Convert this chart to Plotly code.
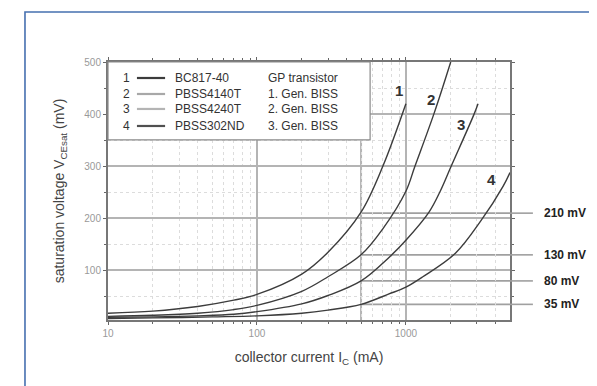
import math
import plotly.graph_objects as go

# collector current (mA) and saturation voltage (mV)
ic_1 = [10, 20, 40, 70, 100, 200, 300, 500, 700, 1000]
v_1 = [18, 22, 31, 43, 54, 93, 135, 212, 300, 420]

ic_2 = [10, 20, 40, 70, 100, 200, 300, 500, 700, 1000, 1150, 1540, 2000]
v_2 = [12, 14, 18, 25, 33, 60, 88, 130, 180, 252, 300, 400, 500]

ic_3 = [10, 20, 40, 70, 100, 200, 300, 500, 770, 1000, 1430, 1700, 2000, 2870, 3050]
v_3 = [10, 11, 13, 16, 21, 36, 52, 80, 125, 158, 212, 252, 298, 400, 420]

ic_4 = [10, 20, 50, 100, 200, 300, 500, 770, 1000, 1300, 2150, 3200, 4500, 5000]
v_4 = [8, 9, 11, 13, 18, 24, 35, 55, 68, 88, 133, 196, 262, 288]

curve_ids = ["1", "2", "3", "4"]
part_names = ["BC817-40", "PBSS4140T", "PBSS4240T", "PBSS302ND"]
part_types = ["GP transistor", "1. Gen. BISS", "2. Gen. BISS", "3. Gen. BISS"]
label_x = [900, 1470, 2330, 3760]
label_y = [446, 428, 381, 274]

ref_current = 500
ref_mv = [210, 130, 80, 35]

FONT = "Arial, Liberation Sans, sans-serif"
CURVE = "#3c3c3c"
GRID = "#b4b4b4"
MINOR = "#dcdcdc"

fig = go.Figure()
for ic, v, cid in zip([ic_1, ic_2, ic_3, ic_4], [v_1, v_2, v_3, v_4], curve_ids):
    fig.add_trace(go.Scatter(x=ic, y=v, mode="lines", line=dict(color=CURVE, width=1.4),
                             line_shape="spline", name=cid, showlegend=False))

shapes = []
# vertical marker at 500 mA
shapes.append(dict(type="line", xref="x", yref="y domain", x0=ref_current, x1=ref_current,
                   y0=0, y1=1, line=dict(color=GRID, width=2), layer="below"))
for mv in ref_mv:
    shapes.append(dict(type="line", xref="x", yref="y", x0=ref_current, x1=5000, y0=mv, y1=mv,
                       line=dict(color="#a0a0a0", width=1.6), layer="below"))
    shapes.append(dict(type="line", xref="x domain", yref="y", x0=1, x1=1.057, y0=mv, y1=mv,
                       line=dict(color="#a0a0a0", width=1.6)))

# legend box
shapes.append(dict(type="rect", xref="paper", yref="paper", x0=0, x1=0.652, y0=0.698, y1=1,
                   fillcolor="white", line=dict(color="#8a8a8a", width=1.2), layer="above"))
legend_rows = [0.938, 0.876, 0.818, 0.752]
legend_line_colors = ["#3c3c3c", "#a8a8a8", "#b4b4b4", "#505050"]
annotations = []
for row, cid, pname, ptype, lc in zip(legend_rows, curve_ids, part_names, part_types,
                                      legend_line_colors):
    shapes.append(dict(type="line", xref="paper", yref="paper", x0=0.072, x1=0.142,
                       y0=row, y1=row, line=dict(color=lc, width=2.2)))
    annotations.append(dict(xref="paper", yref="paper", x=0.047, y=row, text=cid,
                            xanchor="center", yanchor="middle", showarrow=False,
                            font=dict(size=12, color="#333", family=FONT)))
    annotations.append(dict(xref="paper", yref="paper", x=0.162, y=row, text=pname,
                            xanchor="left", yanchor="middle", showarrow=False,
                            font=dict(size=12, color="#333", family=FONT)))
    annotations.append(dict(xref="paper", yref="paper", x=0.393, y=row, text=ptype,
                            xanchor="left", yanchor="middle", showarrow=False,
                            font=dict(size=12, color="#333", family=FONT)))

# curve numbers (annotation x on a log axis is given as log10)
for cid, lx, ly in zip(curve_ids, label_x, label_y):
    annotations.append(dict(x=math.log10(lx), y=ly, xref="x", yref="y", text=f"<b>{cid}</b>",
                            xanchor="center", yanchor="middle", showarrow=False,
                            font=dict(size=15, color="#333", family=FONT)))

# reference voltage labels
for mv in ref_mv:
    annotations.append(dict(xref="x domain", yref="y", x=1.08, y=mv, text=f"<b>{mv} mV</b>",
                            xanchor="left", yanchor="middle", showarrow=False,
                            font=dict(size=12, color="#222", family=FONT)))

# outer blue frame
shapes.append(dict(type="path", xref="paper", yref="paper",
                   path="M -0.2065,-0.4 L -0.2065,1.194 L 1.3,1.194",
                   line=dict(color="#4670b0", width=1.6)))

# the page body adds an 8 px offset, so the figure is trimmed by that much
fig.update_layout(
    width=589, height=378,
    margin=dict(l=100, r=87, t=54, b=66),
    paper_bgcolor="white", plot_bgcolor="white",
    font=dict(family=FONT),
    shapes=shapes, annotations=annotations,
    showlegend=False,
    xaxis=dict(
        type="log", range=[1, 3.699],
        tickvals=[10, 100, 1000], ticktext=["10", "100", "1000"],
        tickfont=dict(size=10, color="#999"),
        ticks="outside", ticklen=3, tickcolor="#666",
        showgrid=True, gridcolor=GRID, gridwidth=2,
        minor=dict(tickmode="array",
                   tickvals=[20, 30, 40, 50, 60, 70, 80, 90, 200, 300, 400, 500, 600, 700,
                             800, 900, 2000, 3000, 4000],
                   ticks="outside", ticklen=2, tickcolor="#666",
                   showgrid=True, gridcolor=MINOR, griddash="dot", gridwidth=1),
        showline=True, linecolor="#777", linewidth=2, mirror="allticks",
        title=dict(text="collector current I<sub>C</sub> (mA)",
                   font=dict(size=14, color="#444"), standoff=14),
        zeroline=False,
    ),
    yaxis=dict(
        range=[5, 500], tickvals=[100, 200, 300, 400, 500],
        tickfont=dict(size=10, color="#999"),
        ticks="outside", ticklen=3, tickcolor="#666",
        showgrid=True, gridcolor=GRID, gridwidth=1.5,
        minor=dict(tickmode="array", tickvals=[50, 150, 250, 350, 450],
                   ticks="outside", ticklen=2, tickcolor="#666",
                   showgrid=True, gridcolor=MINOR, griddash="dot", gridwidth=1),
        showline=True, linecolor="#777", linewidth=2, mirror="allticks",
        title=dict(text="saturation voltage V<sub>CEsat</sub> (mV)",
                   font=dict(size=14, color="#444"), standoff=16),
        zeroline=False,
    ),
)

fig.write_html("out.html")
